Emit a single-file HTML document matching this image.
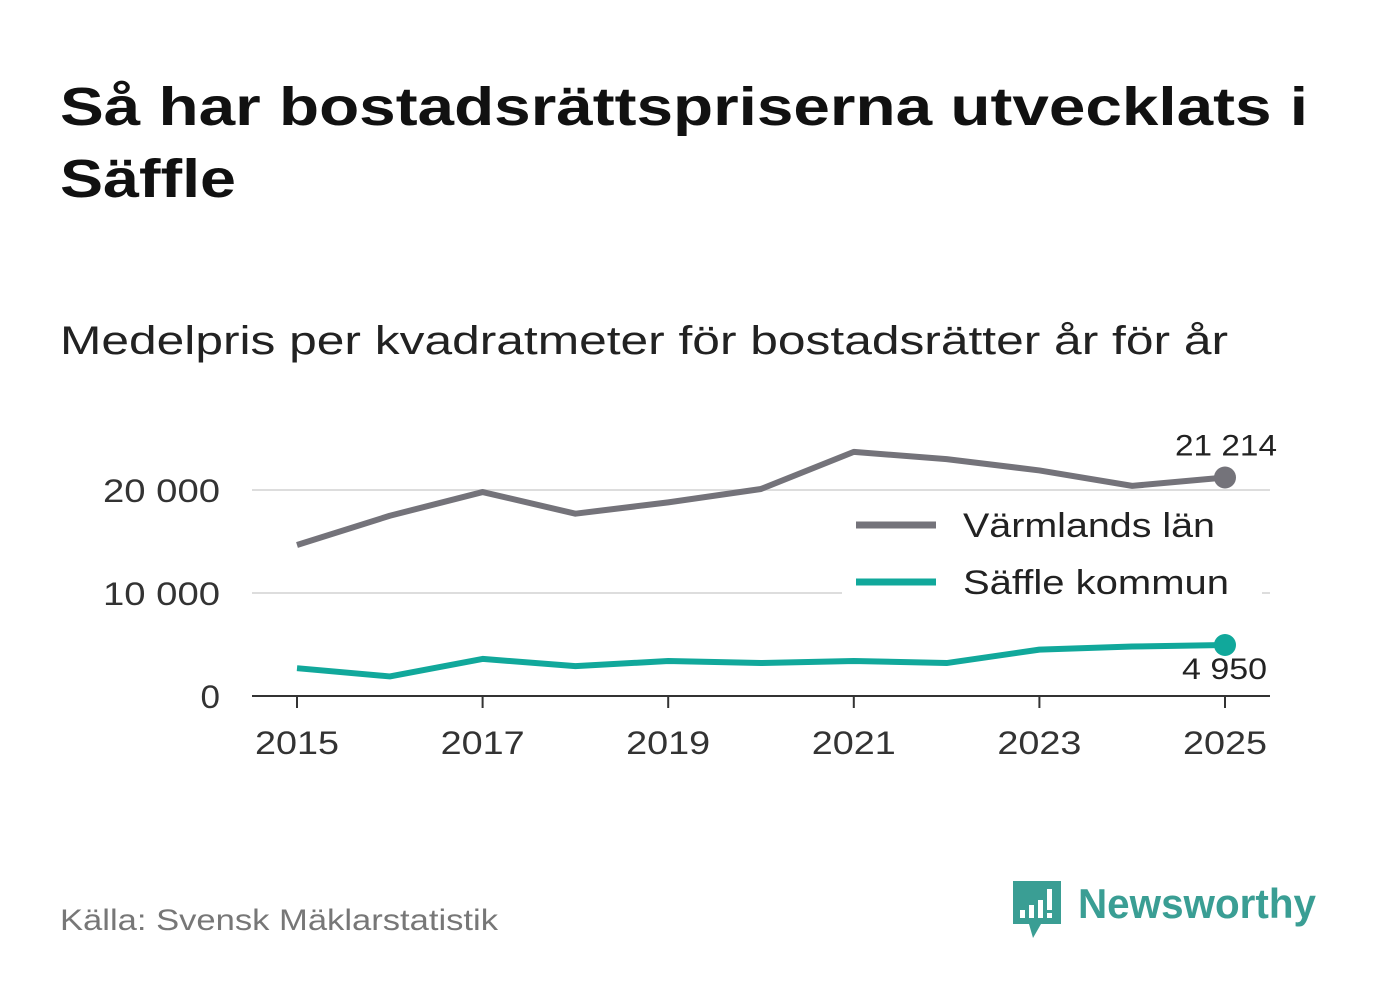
<!DOCTYPE html>
<html><head><meta charset="utf-8"><style>
body{margin:0;width:1382px;height:999px;background:#fff;font-family:"Liberation Sans","DejaVu Sans",sans-serif;overflow:hidden}
</style></head><body>
<svg width="1382" height="999">
<text x="60" y="125" font-size="54" font-weight="bold" fill="#111" textLength="1248" lengthAdjust="spacingAndGlyphs">Så har bostadsrättspriserna utvecklats i</text>
<text x="60" y="197" font-size="54" font-weight="bold" fill="#111" textLength="176" lengthAdjust="spacingAndGlyphs">Säffle</text>
<text x="60" y="354" font-size="40" fill="#222" textLength="1168" lengthAdjust="spacingAndGlyphs">Medelpris per kvadratmeter för bostadsrätter år för år</text>
<g id="plot"></g>
<text x="60" y="930" font-size="30" fill="#777" textLength="438" lengthAdjust="spacingAndGlyphs">Källa: Svensk Mäklarstatistik</text>
<g>
<path d="M1013 881h48v43h-20l-8 14l-4-14h-16z" fill="#3a9e94"/>
<rect x="1020" y="910" width="5" height="8" fill="#fff"/><rect x="1029" y="905" width="5" height="13" fill="#fff"/><rect x="1038" y="900" width="5" height="18" fill="#fff"/><rect x="1047" y="889" width="5" height="21" fill="#fff"/><rect x="1047" y="913" width="5" height="5" fill="#fff"/>
<text x="1078" y="918" font-size="42" font-weight="bold" fill="#3a9e94" textLength="238" lengthAdjust="spacingAndGlyphs">Newsworthy</text>
</g>
</svg>
<script>
const years=[2015,2016,2017,2018,2019,2020,2021,2022,2023,2024,2025];
const varmland=[14660,17500,19800,17700,18800,20100,23700,23000,21900,20400,21214];
const saffle=[2700,1900,3600,2900,3400,3200,3400,3200,4500,4800,4950];
const yTicks=[0,10000,20000];
const xTicks=[2015,2017,2019,2021,2023,2025];
const X=y=>297+(y-2015)*92.8, Y=v=>696-v*0.0103;
const g=document.getElementById('plot'),ns='http://www.w3.org/2000/svg';
function add(tag,a,t){const e=document.createElementNS(ns,tag);for(const k in a)e.setAttribute(k,a[k]);if(t!=null)e.textContent=t;g.appendChild(e);return e;}
const fmt=v=>String(v).replace(/\B(?=(\d{3})+(?!\d))/g,' ');
const W=s=>s.length*19.5;
yTicks.forEach(v=>{
 if(v>0){const l=add('line',{x1:252,x2:1270,y1:Y(v),y2:Y(v),stroke:'#ddd','stroke-width':2});
 
 }
 const s=fmt(v);
 const t=add('text',{x:220,y:Y(v)+12,'font-size':32,fill:'#333','text-anchor':'end',textLength:W(s),lengthAdjust:'spacingAndGlyphs'},s);
 
 
});
const ax=add('line',{x1:252,x2:1270,y1:696,y2:696,stroke:'#333','stroke-width':2});


xTicks.forEach(y=>{
 const tk=add('line',{x1:X(y),x2:X(y),y1:696,y2:708,stroke:'#333','stroke-width':2});
 
 
 const t=add('text',{x:X(y),y:754,'font-size':32,fill:'#333','text-anchor':'middle',textLength:84,lengthAdjust:'spacingAndGlyphs'},y);
 
 
});
const lb=add('rect',{x:842,y:500,width:420,height:100,fill:'#fff'});


function series(vals,color,name,lblY,tl){
 const p=add('polyline',{points:vals.map((v,i)=>X(years[i])+','+Y(v)).join(' '),fill:'none',stroke:color,'stroke-width':6,'stroke-linejoin':'round'});
 
 
 const last=vals.length-1;
 const c=add('circle',{cx:X(years[last]),cy:Y(vals[last]),r:11,fill:color});
 
 
 const t=add('text',{x:X(years[last])+tl[0],y:Y(vals[last])+lblY,'font-size':30,fill:'#222','text-anchor':'end',textLength:tl[1],lengthAdjust:'spacingAndGlyphs'},fmt(vals[last]));
 
 
}
series(varmland,'#74737a','varmland',-22,[52,102]);
series(saffle,'#11a89b','saffle',34,[42,85]);
[['Värmlands län','#74737a',525,252],['Säffle kommun','#11a89b',582,266]].forEach(([n,c,y,w])=>{
 const l=add('line',{x1:856,x2:936,y1:y,y2:y,stroke:c,'stroke-width':7});
 
 
 const t=add('text',{x:963,y:y+12,'font-size':34,fill:'#222',textLength:w,lengthAdjust:'spacingAndGlyphs'},n);
 
 
});
</script>
</body></html>
